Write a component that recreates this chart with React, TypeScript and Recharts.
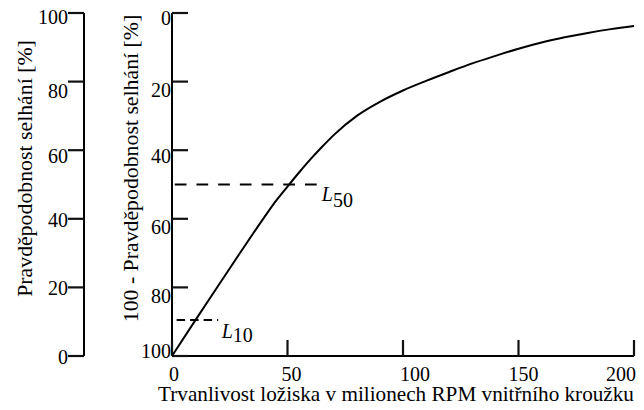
import { Line, LineChart, ReferenceLine, XAxis, YAxis } from "recharts";

// life in millions of inner ring revolutions
const lifeMillions = [0, 10, 20, 30, 40, 45, 50, 55, 60, 65, 70, 80, 90, 100, 110, 120, 130, 140, 150, 160, 170, 180, 190, 200];
// value on the reversed axis (100 - failure probability)
const survivalShare = [100, 89.7, 79.5, 69.4, 59.5, 54.8, 50.6, 46.5, 42.6, 39, 35.6, 30, 25.9, 22.6, 19.8, 17.2, 14.7, 12.5, 10.4, 8.6, 7.1, 5.8, 4.7, 3.8];

const lifeTicks = [0, 50, 100, 150, 200];
const percentTicks = [0, 20, 40, 60, 80, 100];

const l50Line = { level: 50, from: 1.2, to: 62.7, sub: "50" };
const l10Line = { level: 89.5, from: 2, to: 20, sub: "10" };

const data = lifeMillions.map((x, i) => ({ x, v: survivalShare[i], fail: 100 - survivalShare[i] }));

const font = '"Liberation Serif", "Times New Roman", serif';
const ink = "#000";
const tickInk = "#111";
const axisStroke = { stroke: ink, strokeWidth: 2 };
const TICK = 16;

const mainTickDy: Record<number, number> = { 0: 12, 20: 15.5, 40: 12.5, 60: 15, 80: 15.5, 100: 1.5 };
const failTickDy: Record<number, number> = { 0: 8, 20: 7.3, 40: 8.4, 60: 12.6, 80: 16, 100: 10.6 };
const lifeTickDx: Record<number, number> = { 0: 2, 50: 4, 100: 12, 150: 5, 200: -13 };

// with tickSize 0 and tickMargin 0, x / y arrive on the axis line itself
function MainTick({ x, y, payload }: any) {
  return (
    <g>
      <line x1={x} y1={y} x2={x + TICK} y2={y} stroke={tickInk} strokeWidth={2.2} />
      <text x={x - 1} y={y + (mainTickDy[payload.value] ?? 13)} textAnchor="end" fontFamily={font} fontSize={20} fill={ink}>
        {payload.value}
      </text>
    </g>
  );
}

function FailTick({ x, y, payload }: any) {
  return (
    <g>
      <line x1={x - TICK} y1={y} x2={x} y2={y} stroke={tickInk} strokeWidth={2.2} />
      <text x={x - TICK} y={y + (failTickDy[payload.value] ?? 8)} textAnchor="end" fontFamily={font} fontSize={20} fill={ink}>
        {payload.value}
      </text>
    </g>
  );
}

function LifeTick({ x, y, payload }: any) {
  return (
    <g>
      <line x1={x} y1={y} x2={x} y2={y - TICK} stroke={tickInk} strokeWidth={2.2} />
      <text x={x + (lifeTickDx[payload.value] ?? 0)} y={y + 24.5} textAnchor="middle" fontFamily={font} fontSize={20} fill={ink}>
        {payload.value}
      </text>
    </g>
  );
}

const lLabel = (sub: string, dx: number, dy: number, subDy: number) => (props: any) => {
  const vb = props.viewBox;
  return (
    <text x={vb.x + vb.width + dx} y={vb.y + dy} fontFamily={font} fontSize={20} fill={ink}>
      <tspan fontStyle="italic">L</tspan>
      <tspan dy={subDy}>{sub}</tspan>
    </text>
  );
};

export default function App() {
  return (
    <div style={{ position: "absolute", left: 0, top: 0, fontFamily: font }}>
      <LineChart width={644} height={410} data={data} margin={{ top: 13, right: 10, bottom: 0, left: 0 }}>
        <XAxis
          dataKey="x"
          type="number"
          domain={[0, 200]}
          ticks={lifeTicks}
          interval={0}
          height={54}
          tickSize={0}
          tickMargin={0}
          tickLine={false}
          axisLine={axisStroke}
          tick={(p: any) => <LifeTick {...p} />}
          label={(props: any) => (
            <text
              x={props.viewBox.x + props.viewBox.width / 2 - 7}
              y={props.viewBox.y + 45}
              textAnchor="middle"
              fontFamily={font}
              fontSize={21.2}
              fill={ink}
            >
              Trvanlivost ložiska v milionech RPM vnitřního kroužku
            </text>
          )}
        />
        <YAxis
          yAxisId="z_fail"
          type="number"
          domain={[0, 100]}
          ticks={percentTicks}
          interval={0}
          width={84}
          tickSize={0}
          tickMargin={0}
          tickLine={false}
          axisLine={axisStroke}
          tick={(p: any) => <FailTick {...p} />}
          label={(props: any) => {
            const cx = props.viewBox.x + 32;
            const cy = props.viewBox.y + props.viewBox.height / 2 - 16;
            return (
              <text x={cx} y={cy} transform={`rotate(-90, ${cx}, ${cy})`} textAnchor="middle" fontFamily={font} fontSize={21.8} fill={ink}>
                Pravděpodobnost selhání [%]
              </text>
            );
          }}
        />
        <YAxis
          yAxisId="a_main"
          type="number"
          reversed
          domain={[0, 100]}
          ticks={percentTicks}
          interval={0}
          width={88}
          tickSize={0}
          tickMargin={0}
          tickLine={false}
          axisLine={axisStroke}
          tick={(p: any) => <MainTick {...p} />}
          label={(props: any) => {
            const cx = props.viewBox.x + 54;
            const cy = props.viewBox.y + props.viewBox.height / 2 - 16;
            return (
              <text x={cx} y={cy} transform={`rotate(-90, ${cx}, ${cy})`} textAnchor="middle" fontFamily={font} fontSize={21.8} fill={ink}>
                100 - Pravděpodobnost selhání [%]
              </text>
            );
          }}
        />
        <ReferenceLine
          yAxisId="a_main"
          segment={[
            { x: l50Line.from, y: l50Line.level },
            { x: l50Line.to, y: l50Line.level }
          ]}
          stroke={ink}
          strokeWidth={2}
          strokeDasharray="11.7 10"
          label={lLabel(l50Line.sub, 5, 16.7, 5.3)}
        />
        <ReferenceLine
          yAxisId="a_main"
          segment={[
            { x: l10Line.from, y: l10Line.level },
            { x: l10Line.to, y: l10Line.level }
          ]}
          stroke={ink}
          strokeWidth={2}
          strokeDasharray="8.5 5"
          label={lLabel(l10Line.sub, 3.5, 18.3, 3.5)}
        />
        {/* invisible twin series so the failure-probability axis gets its scale */}
        <Line
          yAxisId="z_fail"
          type="monotone"
          dataKey="fail"
          stroke="none"
          dot={false}
          activeDot={false}
          legendType="none"
          isAnimationActive={false}
        />
        <Line
          yAxisId="a_main"
          type="monotone"
          dataKey="v"
          stroke={ink}
          strokeWidth={2}
          dot={false}
          isAnimationActive={false}
        />
      </LineChart>
    </div>
  );
}
